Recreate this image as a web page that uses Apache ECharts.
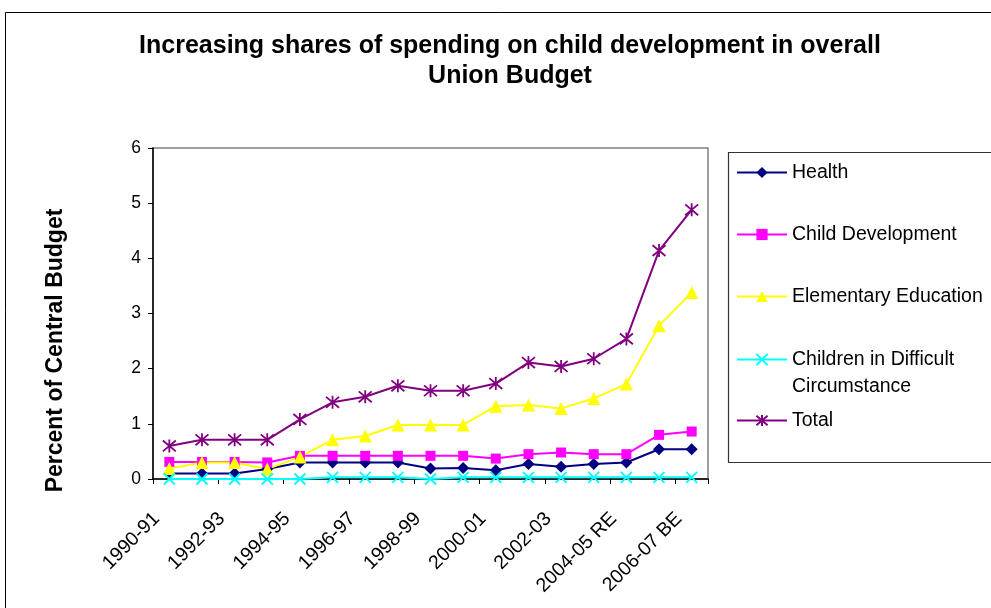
<!DOCTYPE html>
<html>
<head>
<meta charset="utf-8">
<script src="https://cdn.jsdelivr.net/npm/echarts@6/dist/echarts.min.js"></script>
<style>
  html, body { margin: 0; padding: 0; background: #fff; }
  #chart { width: 991px; height: 608px; }
</style>
</head>
<body>
<div id="chart"></div>
<script>
// Fiscal years on the horizontal axis
const years = ['1990-91', '1991-92', '1992-93', '1993-94', '1994-95', '1995-96',
  '1996-97', '1997-98', '1998-99', '1999-00', '2000-01', '2001-02', '2002-03',
  '2003-04', '2004-05 RE', '2005-06 RE', '2006-07 BE'];

// Share of the central budget, in percent
const health = [0.1, 0.1, 0.1, 0.18, 0.3, 0.3, 0.3, 0.3, 0.19, 0.2, 0.16, 0.27, 0.22, 0.27, 0.3, 0.54, 0.54];
const childDevelopment = [0.31, 0.31, 0.31, 0.3, 0.42, 0.42, 0.42, 0.42, 0.42, 0.42, 0.37, 0.45, 0.48, 0.45, 0.45, 0.8, 0.86];
const elementaryEducation = [0.19, 0.3, 0.3, 0.18, 0.4, 0.71, 0.78, 0.98, 0.98, 0.98, 1.32, 1.34, 1.28, 1.46, 1.72, 2.78, 3.38];
const difficultCircumstances = [0, 0, 0, 0, 0, 0.03, 0.03, 0.03, 0, 0.03, 0.03, 0.03, 0.03, 0.03, 0.03, 0.03, 0.03];
const total = [0.6, 0.71, 0.71, 0.71, 1.08, 1.39, 1.49, 1.69, 1.6, 1.6, 1.73, 2.11, 2.04, 2.18, 2.54, 4.14, 4.88];

const seriesNames = ['Health', 'Child Development', 'Elementary Education',
  'Children in Difficult Circumstance', 'Total'];

const FONT = '"Liberation Sans", Arial, sans-serif';
const crossPath = 'path://M0,0L10,10M10,0L0,10';
const starPath = 'path://M0,0L10,10M10,0L0,10M5,-1L5,11';

function lineSeries(name, data, color, symbol, size, stroke) {
  return {
    name: name,
    type: 'line',
    data: data,
    symbol: symbol,
    symbolSize: size,
    showAllSymbol: true,
    lineStyle: { color: color, width: 2 },
    itemStyle: stroke
      ? { color: color, borderColor: color, borderWidth: 1.8 }
      : { color: color, borderWidth: 0 },
    emphasis: { disabled: true },
    animation: false
  };
}

// One legend block per entry so the spacing can follow the boxed key
const legendTops = [157.5, 219.5, 281.5, 317.5, 405.5];
const legendTextStyle = { color: '#000', fontFamily: FONT, fontSize: 19.5, lineHeight: 20 };
const legends = seriesNames.map(function (name, i) {
  const lg = {
    data: [name],
    left: 731,
    top: legendTops[i],
    orient: 'vertical',
    itemWidth: 50,
    itemHeight: 14,
    itemGap: 0,
    selectedMode: false,
    textStyle: legendTextStyle
  };
  if (i === 3) {
    lg.formatter = function () {
      return '{a| }\n{a|Children in Difficult}\n{a|Circumstance}';
    };
    lg.textStyle = {
      color: '#000', fontFamily: FONT, fontSize: 19.5,
      rich: { a: { fontFamily: FONT, fontSize: 19.5, lineHeight: 27, color: '#000' } }
    };
  }
  return lg;
});

const chart = echarts.init(document.getElementById('chart'), null, { renderer: 'canvas' });
chart.setOption({
  backgroundColor: '#fff',
  animation: false,
  title: {
    text: 'Increasing shares of spending on child development in overall\nUnion Budget',
    left: 505,
    textAlign: 'center',
    top: 26,
    textStyle: { fontFamily: FONT, fontWeight: 'bold', fontSize: 25, lineHeight: 30, color: '#000' }
  },
  legend: legends,
  grid: {
    left: 153, top: 148, right: 283, bottom: 129,
    show: true, borderColor: '#808080', borderWidth: 1.5, backgroundColor: '#fff'
  },
  xAxis: {
    type: 'category',
    data: years,
    boundaryGap: true,
    axisLine: { lineStyle: { color: '#000', width: 1.5 } },
    axisTick: { show: true, length: 5, inside: false, lineStyle: { color: '#000' } },
    axisLabel: {
      interval: 1, rotate: 45, margin: 24, padding: [0, 18, 0, 0],
      color: '#000', fontFamily: FONT, fontSize: 19.5
    },
    splitLine: { show: false }
  },
  yAxis: {
    type: 'value',
    min: 0, max: 6, interval: 1,
    name: 'Percent of Central Budget',
    nameLocation: 'middle',
    nameGap: 86,
    nameTextStyle: { fontFamily: FONT, fontWeight: 'bold', fontSize: 23, color: '#000', padding: [0, 74, 0, 0] },
    axisLine: { show: true, lineStyle: { color: '#000', width: 1.5 } },
    axisTick: { show: true, length: 5, lineStyle: { color: '#000' } },
    axisLabel: { margin: 12, color: '#000', fontFamily: FONT, fontSize: 17.5 },
    splitLine: { show: false }
  },
  graphic: [
    {
      type: 'rect', silent: true, z: -1,
      shape: { x: 5.5, y: 12.5, width: 1000, height: 700 },
      style: { fill: 'none', stroke: '#000', lineWidth: 1 }
    },
    {
      type: 'rect', silent: true, z: 0,
      shape: { x: 728.5, y: 152.5, width: 300, height: 310 },
      style: { fill: '#fff', stroke: '#333', lineWidth: 1.2 }
    }
  ],
  series: [
    lineSeries(seriesNames[0], health, '#000080', 'diamond', 12, false),
    lineSeries(seriesNames[1], childDevelopment, '#FF00FF', 'rect', 10, false),
    lineSeries(seriesNames[2], elementaryEducation, '#FFFF00', 'triangle', 13, false),
    lineSeries(seriesNames[3], difficultCircumstances, '#00FFFF', crossPath, 11, true),
    lineSeries(seriesNames[4], total, '#800080', starPath, 13, true)
  ]
});
</script>
</body>
</html>
